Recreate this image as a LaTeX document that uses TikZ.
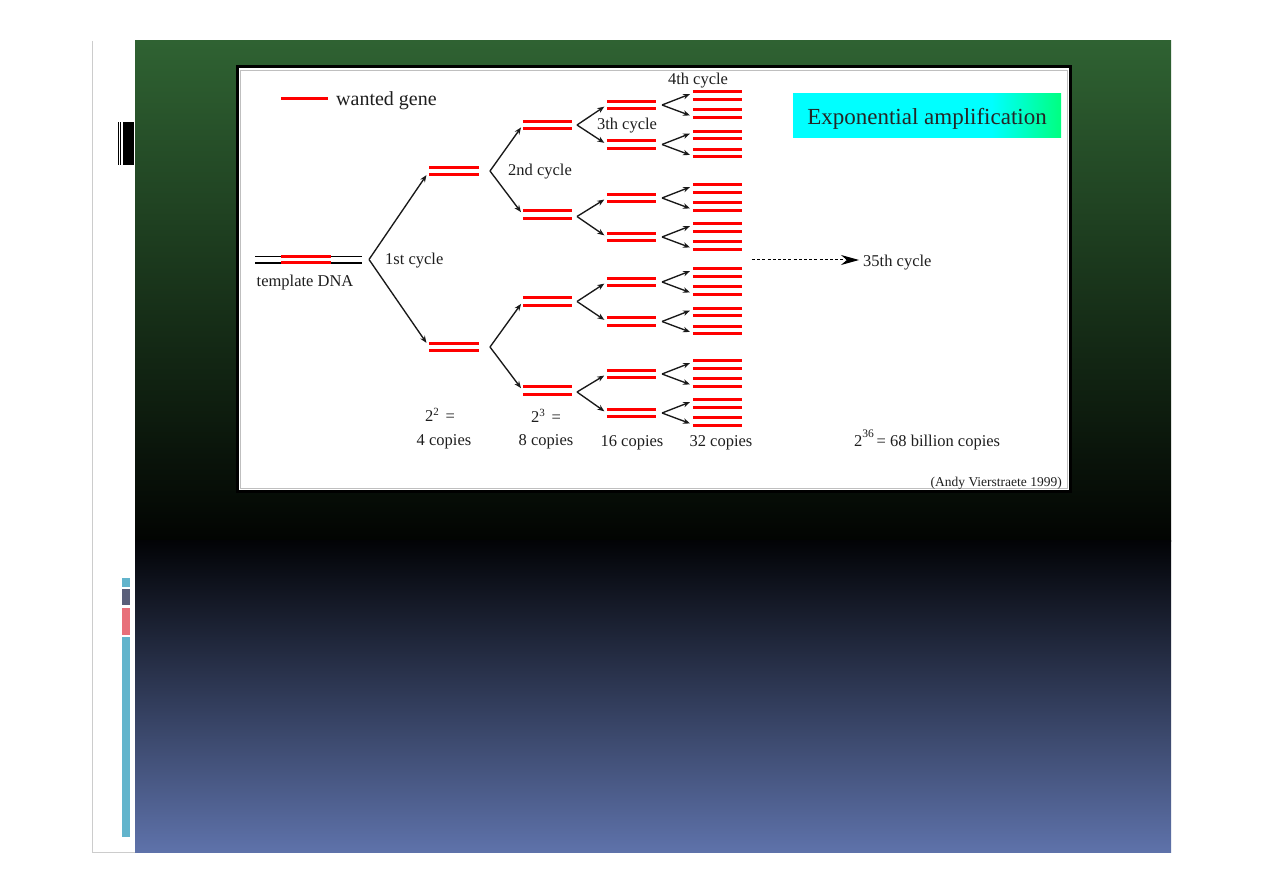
\documentclass[tikz,border=0pt]{standalone}
\usepackage{fontspec}
\setmainfont{Liberation Serif}
\usetikzlibrary{arrows.meta}
\definecolor{gtop}{RGB}{47,98,50}
\definecolor{gbot}{RGB}{2,4,2}
\definecolor{btop}{RGB}{2,3,6}
\definecolor{bbot}{RGB}{94,114,170}
\definecolor{barcyan}{RGB}{98,180,204}
\definecolor{barslate}{RGB}{90,95,122}
\definecolor{barpink}{RGB}{232,112,122}
\definecolor{expogreen}{RGB}{0,255,128}
\definecolor{txt}{RGB}{30,30,30}
\pgfdeclarehorizontalshading{expo}{100bp}{color(0bp)=(cyan); color(62bp)=(cyan); color(75bp)=(expogreen); color(100bp)=(expogreen)}
\newcommand\dnapair[3]{%
  \node[pairnode] (#1) at (#2,#3) {};
  \draw[gene] ([yshift=-3.7pt]#1.west) -- ([yshift=-3.7pt]#1.east);
  \draw[gene] ([yshift=3.7pt]#1.west) -- ([yshift=3.7pt]#1.east);}
\begin{document}
\begin{tikzpicture}[x=1pt,y=-1pt,
  lbl/.style={font=\fontsize{16.5}{18}\selectfont, inner sep=0pt, text=txt, yshift=-2.5pt},
  gene/.style={red, line width=3pt},
  strand/.style={black, line width=1.2pt},
  pairnode/.style={minimum width=49pt, minimum height=10pt, inner sep=0pt},
  arr/.style={-{Stealth[length=7pt,width=5.5pt]}, line width=1.35pt, shorten >=3pt, black!90},
  exbox/.style={shading=expo, minimum width=268pt, minimum height=44pt, inner sep=0pt,
    font=\fontsize{23}{26}\selectfont, text=black!85},
]
\useasboundingbox (0,0) rectangle (1263,893);
\fill[white] (0,0) rectangle (1263,893);
% slide frame lines
\draw[gray!40, line width=1pt] (92,41) -- (92,852) -- (135,852);
% background panel
\shade[top color=gtop, bottom color=gbot] (135,41) rectangle (1171,541);
\shade[top color=btop, bottom color=bbot] (135,540) rectangle (1171,852);
% left decorations
\fill[black] (118,122) rectangle (119.2,165);
\fill[black] (120.3,122) rectangle (121.4,165);
\fill[black] (122.5,122) rectangle (134,165);
\fill[barcyan] (122,578) rectangle (130,587);
\fill[barslate] (122,589) rectangle (130,605);
\fill[barpink] (122,608) rectangle (130,635);
\fill[barcyan] (122,637) rectangle (130,837);
% figure panel
\draw[black, line width=3pt, fill=white] (237,67) rectangle (1070,491);
\draw[gray!50, line width=0.8pt] (240,70) rectangle (1067,488);
% legend
\coordinate (lg1) at (281,99);
\node[lbl, anchor=west, font=\fontsize{20}{22}\selectfont] (lgtext) at (336,98) {wanted gene};
\draw[gene, shorten >=8pt] (lg1) -- (lg1 -| lgtext.west);
% template DNA
\coordinate (t1) at (255,256.5);
\coordinate (t2) at (362,256.5);
\coordinate (t3) at (255,263);
\coordinate (t4) at (362,263);
\draw[strand] (t1) -- (t2);
\draw[strand] (t3) -- (t4);
\coordinate (g1) at (281,256.5);
\coordinate (g2) at (331,256.5);
\coordinate (g3) at (281,263);
\coordinate (g4) at (331,263);
\draw[gene] (g1) -- (g2);
\draw[gene] (g3) -- (g4);
\node[lbl] (tmpl) at (305,280) {template DNA};
% 1st cycle
\coordinate (a0) at (369,259.5);
\node[lbl, anchor=west] (c1) at (385,258) {1st cycle};
\dnapair{L1a}{454}{171}
\dnapair{L1b}{454}{347}
\draw[arr, shorten >=5pt] (a0) -- (L1a.west);
\draw[arr, shorten >=5pt] (a0) -- (L1b.west);
% 2nd cycle
\node[lbl] (c2) at (540,169) {2nd cycle};
\coordinate (a1a) at (490,171);
\coordinate (a1b) at (490,347);
\dnapair{L2-1}{547.5}{125}
\dnapair{L2-2}{547.5}{214.5}
\dnapair{L2-3}{547.5}{301.5}
\dnapair{L2-4}{547.5}{390.5}
\draw[arr] (a1a) -- (L2-1.west);
\draw[arr] (a1a) -- (L2-2.west);
\draw[arr] (a1b) -- (L2-3.west);
\draw[arr] (a1b) -- (L2-4.west);
% 3rd and 4th cycles
\node[lbl] (c3) at (627,123) {3th cycle};
\node[lbl] (c4) at (698,78) {4th cycle};
\foreach \i/\y in {1/105,2/144.5,3/198,4/237,5/282,6/321.5,7/374,8/413}{
  \dnapair{L3-\i}{631.5}{\y}
  \coordinate (a3-\i) at (662,\y);
  \dnapair{L4-\i-a}{717.5}{\y-9.5}
  \dnapair{L4-\i-b}{717.5}{\y+8.5}
  \draw[arr] (a3-\i) -- ([yshift=2.5pt]L4-\i-a.west);
  \draw[arr] (a3-\i) -- ([yshift=-3pt]L4-\i-b.west);
}
\foreach \j/\y/\p/\q in {1/125/1/2,2/216.5/3/4,3/301.5/5/6,4/392/7/8}{
  \coordinate (a2-\j) at (577,\y);
  \draw[arr] (a2-\j) -- (L3-\p.west);
  \draw[arr] (a2-\j) -- (L3-\q.west);
}
% 35th cycle
\coordinate (d1) at (752,260);
\node[lbl, anchor=west] (c35) at (863,260) {35th cycle};
\draw[dash pattern=on 3pt off 2.2pt, line width=1pt, -{Stealth[length=18pt,width=10pt]}, shorten >=4pt] (d1) -- (d1 -| c35.west);
% title box
\node[exbox] (expo) at (927,116) {\raisebox{-2.5pt}[\height][\depth]{Exponential amplification}};
% copies
\node[lbl] (e2) at (440,412) {2\raisebox{6pt}{\fontsize{11}{11}\selectfont 2}\, =};
\node[lbl] (n4) at (444,439) {4 copies};
\node[lbl] (e3) at (546,413) {2\raisebox{6pt}{\fontsize{11}{11}\selectfont 3}\, =};
\node[lbl] (n8) at (546,439) {8 copies};
\node[lbl] (n16) at (632,440) {16 copies};
\node[lbl] (n32) at (721,440) {32 copies};
\node[lbl, anchor=west] (n36) at (854,437) {2\raisebox{9pt}{\fontsize{11.5}{12}\selectfont 36}\,= 68 billion copies};
\node[lbl, anchor=east, font=\fontsize{13.5}{15}\selectfont] (credit) at (1062,481) {(Andy Vierstraete 1999)};
\end{tikzpicture}
\end{document}
